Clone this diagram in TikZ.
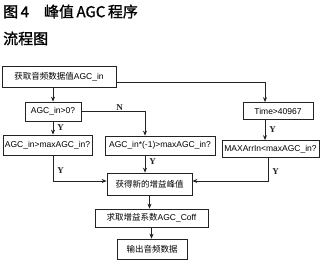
\documentclass[tikz,border=0pt]{standalone}
\usepackage{fontspec}
\setmainfont{Liberation Sans}
\newfontfamily\cjk{Noto Sans CJK SC}
\newfontfamily\cjkt[FakeBold=1.2]{Noto Sans CJK SC}
\newfontfamily\yn{Liberation Serif}
\usetikzlibrary{arrows.meta,positioning}
\definecolor{lineblack}{RGB}{35,35,35}

\begin{document}
\begin{tikzpicture}[
    x=1pt, y=-1pt,
    box/.style={draw=lineblack, line width=0.75pt, inner sep=1pt, align=center,
                font=\fontsize{8.5}{10}\selectfont},
    arr/.style={-{Stealth[length=5pt, width=4pt]}, line width=0.75pt, lineblack},
    lab/.style={font=\yn\bfseries\fontsize{9}{10}\selectfont, inner sep=1pt},
    ttl/.style={anchor=west, inner sep=0pt, font=\cjkt\fontsize{15}{17}\selectfont}
]
    \useasboundingbox (0,0) rectangle (320,262);
    \node[ttl] (title) at (3,11.5) {图\,4\quad 峰值\,AGC\,程序};
    \node[ttl] (sub)   at (3,38.5) {流程图};

    \node[box, minimum width=114pt, minimum height=21pt] (get)  at (59,76.5)  {{\cjk 获取音频数据值}AGC\_in};
    \node[box, minimum width=56pt,  minimum height=19pt] (pos)  at (53,111.5) {AGC\_in>0?};
    \node[box, minimum width=70pt,  minimum height=17pt] (time) at (278,111)  {Time>40967};
    \node[box, minimum width=89pt,  minimum height=20pt] (cmpp) at (47.5,145) {AGC\_in>maxAGC\_in?};
    \node[box, minimum width=110pt, minimum height=19pt] (cmpn) at (160,145.5) {AGC\_in*(-1)>maxAGC\_in?};
    \node[box, minimum width=97pt,  minimum height=17pt] (cmpm) at (270.5,149) {MAXArrIn<maxAGC\_in?};
    \node[box, minimum width=85pt,  minimum height=22pt] (peak) at (149.5,184) {\cjk 获得新的增益峰值};
    \node[box, minimum width=113pt, minimum height=18pt] (coef) at (151.5,218) {{\cjk 求取增益系数}AGC\_Coff};
    \node[box, minimum width=70pt,  minimum height=20pt] (out)  at (152,249)   {\cjk 输出音频数据};

    % top row
    \draw[arr] (pos.north |- get.south) -- (pos.north);
    \draw[arr] ([yshift=-5.5pt]get.east) -| ([xshift=-13pt]time.north);
    \draw[arr] (pos.east) -| node[lab, above, pos=0.3] {N} ([xshift=-15pt]cmpn.north);

    % second row
    \draw[arr] (pos.south) -- node[lab, right=3pt] {Y} (pos.south |- cmpp.north);
    \draw[arr] ([xshift=-13pt]time.south) -- node[lab, right=3pt] {Y} ([xshift=-13pt]time.south |- cmpm.north);

    % into the peak box
    \draw[arr] ([xshift=5.5pt]cmpp.south) |- node[lab, right=3pt, pos=0.3] {Y} ([yshift=3pt]peak.west);
    \draw[arr] ([xshift=-15pt]cmpn.south) -- node[lab, right=3pt, pos=0.35] {Y} ([xshift=-15pt]cmpn.south |- peak.north);
    \draw[arr] ([xshift=-2.5pt]cmpm.south) |- node[lab, right=3pt, pos=0.3] {Y} ([yshift=3pt]peak.east);

    % bottom chain
    \draw[arr] (peak.south) -- (peak.south |- coef.north);
    \draw[arr] (coef.south) -- (coef.south |- out.north);
\end{tikzpicture}
\end{document}
